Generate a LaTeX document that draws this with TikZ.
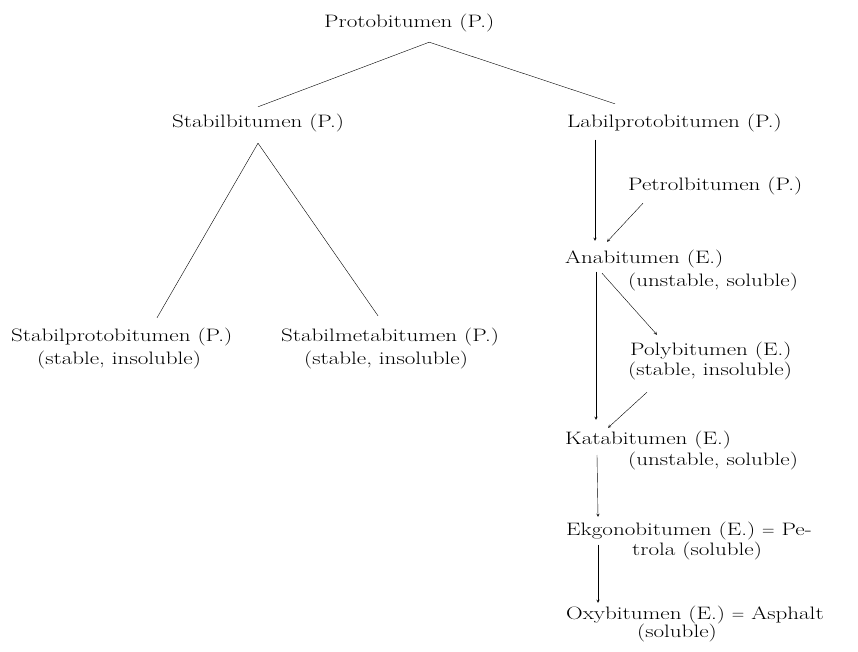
\documentclass[tikz,border=0pt]{standalone}
\usepackage{fontspec}
\setmainfont{Latin Modern Roman}[FakeStretch=1.28]
\usetikzlibrary{positioning}
\begin{document}
\begin{tikzpicture}[x=1pt,y=-1pt,>=stealth,line cap=round,
  every node/.style={inner sep=0pt,font=\fontsize{18}{22}\selectfont},
  lbl/.style={anchor=west}]
  \useasboundingbox (0,0) rectangle (858,652);
  % upper tree
  \node[lbl] (proto) at (324,23) {Protobitumen (P.)};
  \node[lbl] (stabil) at (172,123) {Stabilbitumen (P.)};
  \node[lbl] (labil) at (567,123) {Labilprotobitumen (P.)};
  \node[lbl] (sproto) at (11,337) {Stabilprotobitumen (P.)};
  \node[lbl] (sprotoinfo) at (37,360) {(stable, insoluble)};
  \node[lbl] (smeta) at (281,337) {Stabilmetabitumen (P.)};
  \node[lbl] (smetainfo) at (304,360) {(stable, insoluble)};
  % right column
  \node[lbl] (petrol) at (628,186) {Petrolbitumen (P.)};
  \node[lbl] (ana) at (565,259) {Anabitumen (E.)};
  \node[lbl] (anainfo) at (628,282) {(unstable, soluble)};
  \node[lbl] (poly) at (630,351) {Polybitumen (E.)};
  \node[lbl] (polyinfo) at (628,371) {(stable, insoluble)};
  \node[lbl] (kata) at (565,440) {Katabitumen (E.)};
  \node[lbl] (katainfo) at (628,461) {(unstable, soluble)};
  \node[lbl] (ekgono) at (566,531) {Ekgonobitumen (E.) $=$ Pe-};
  \node[lbl] (ekgonoinfo) at (632,551) {trola (soluble)};
  \node[lbl] (oxy) at (566,615) {Oxybitumen (E.) $=$ Asphalt};
  \node[lbl] (oxyinfo) at (637,633) {(soluble)};
  % lines
  \draw ([xshift=20pt,yshift=-10pt]proto.south) -- ([xshift=86pt,yshift=7pt]stabil.north west);
  \draw ([xshift=20pt,yshift=-10pt]proto.south) -- ([xshift=48pt,yshift=10pt]labil.north west);
  \draw ([xshift=86pt,yshift=-11pt]stabil.south west) -- ([xshift=146pt,yshift=10pt]sproto.north west);
  \draw ([xshift=86pt,yshift=-11pt]stabil.south west) -- ([xshift=97pt,yshift=12pt]smeta.north west);
  % arrows
  \draw[->] ([xshift=28pt,yshift=-8pt]labil.south west) -- ([xshift=30pt,yshift=9pt]ana.north west);
  \draw[->] ([xshift=15pt,yshift=-8pt]petrol.south west) -- ([xshift=42pt,yshift=8pt]ana.north west);
  \draw[->] ([xshift=31pt,yshift=-4pt]ana.south west) -- ([xshift=31pt,yshift=11pt]kata.north west);
  \draw[->] ([xshift=37pt,yshift=-5pt]ana.south west) -- ([xshift=27pt,yshift=7pt]poly.north west);
  \draw[->] ([xshift=19pt,yshift=-12pt]polyinfo.south west) -- ([xshift=43pt,yshift=3pt]kata.north west);
  \draw[->] ([xshift=32pt,yshift=-6pt]kata.south west) -- ([xshift=32pt,yshift=5pt]ekgono.north west);
  \draw[->] ([xshift=32pt,yshift=-5pt]ekgono.south west) -- ([xshift=32pt,yshift=3pt]oxy.north west);
\end{tikzpicture}
\end{document}
